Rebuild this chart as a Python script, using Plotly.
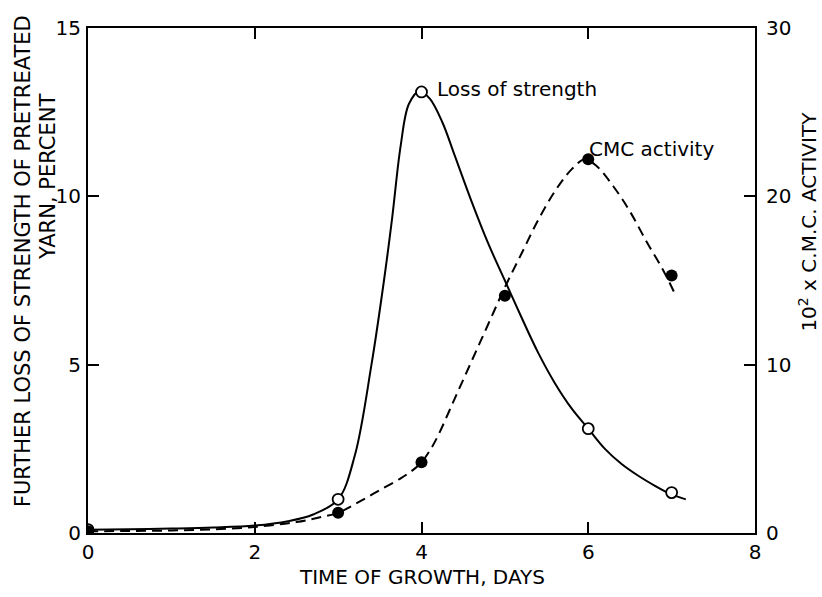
import plotly.graph_objects as go

# Measured points
days = [0, 3, 4, 6, 7]
loss_strength = [0.1, 1.0, 13.1, 3.1, 1.2]          # percent (left axis)
cmc_days = [0, 3, 4, 5, 6, 7]
cmc_activity = [0.1, 1.2, 4.2, 14.1, 22.2, 15.3]    # 10^2 x CMC activity (right axis)

# Drawn curves
loss_curve_x = [0, 0.5, 1, 1.5, 2, 2.4, 2.7, 3.0, 3.2, 3.4, 3.55, 3.65, 3.75, 3.85, 3.98,
                4.1, 4.25, 4.4, 4.6, 4.8, 5.0, 5.2, 5.4, 5.6, 5.8, 6.0, 6.2, 6.4, 6.6, 6.8, 6.95, 7.17]
loss_curve_y = [0.1, 0.11, 0.13, 0.16, 0.22, 0.35, 0.55, 1.0, 2.3, 5.0, 7.5, 9.4, 11.5, 12.75, 13.13,
                12.9, 12.2, 11.2, 9.85, 8.6, 7.5, 6.4, 5.35, 4.45, 3.7, 3.1, 2.5, 2.05, 1.7, 1.4, 1.2, 1.0]
cmc_curve_x = [0, 0.5, 1, 1.5, 2, 2.5, 2.8, 3.0, 3.25, 3.5, 3.75, 3.9, 4.0, 4.1, 4.2, 4.4, 4.6,
               4.8, 5.0, 5.2, 5.4, 5.6, 5.8, 5.96, 6.1, 6.3, 6.5, 6.7, 6.9, 7.05]
cmc_curve_y = [0.1, 0.12, 0.15, 0.22, 0.36, 0.65, 0.95, 1.2, 1.85, 2.55, 3.25, 3.75, 4.2, 4.9, 5.8,
               8.0, 10.2, 12.4, 14.6, 16.6, 18.6, 20.3, 21.6, 22.2, 21.8, 20.6, 19.1, 17.3, 15.6, 14.1]

x_ticks = [0, 2, 4, 6, 8]
left_ticks = [0, 5, 10, 15]
right_ticks = [0, 10, 20, 30]

FONT = "DejaVu Sans, Verdana, sans-serif"

fig = go.Figure()
fig.add_trace(go.Scatter(x=cmc_curve_x, y=cmc_curve_y, mode="lines", yaxis="y2",
                         line=dict(color="black", width=2, dash="10px,6px", shape="spline", smoothing=1.0),
                         hoverinfo="skip", showlegend=False))
fig.add_trace(go.Scatter(x=loss_curve_x, y=loss_curve_y, mode="lines",
                         line=dict(color="black", width=2, shape="spline", smoothing=1.0),
                         hoverinfo="skip", showlegend=False))
fig.add_trace(go.Scatter(x=days, y=loss_strength, mode="markers",
                         marker=dict(symbol="circle", size=11, color="white",
                                     line=dict(color="black", width=1.8)),
                         showlegend=False))
fig.add_trace(go.Scatter(x=cmc_days, y=cmc_activity, mode="markers", yaxis="y2",
                         marker=dict(symbol="circle", size=12, color="black"),
                         showlegend=False))

axis_common = dict(showgrid=False, zeroline=False, showline=True, linecolor="black", linewidth=2,
                   ticks="inside", ticklen=11, tickwidth=2, tickcolor="black",
                   tickfont=dict(family=FONT, size=20, color="black"))

fig.update_layout(
    width=822, height=597,
    margin=dict(l=88, r=67, t=28, b=64),
    paper_bgcolor="white", plot_bgcolor="white",
    font=dict(family=FONT, color="black"),
    xaxis=dict(range=[0, 8], tickvals=x_ticks, ticktext=[str(v) for v in x_ticks],
               mirror="ticks", **axis_common),
    yaxis=dict(range=[0, 15], tickvals=left_ticks, ticktext=[str(v) for v in left_ticks],
               mirror="ticks", ticklabelstandoff=1, **axis_common),
    yaxis2=dict(range=[0, 30], overlaying="y", side="right", tickvals=right_ticks,
                ticktext=[str(v) for v in right_ticks], showgrid=False, zeroline=False,
                showline=False, ticks="", ticklabelstandoff=10,
                tickfont=dict(family=FONT, size=20, color="black")),
    annotations=[
        dict(text="Loss of strength", x=4.16, y=13.2, xref="x", yref="y", xanchor="left",
             yanchor="middle", showarrow=False, font=dict(family=FONT, size=20)),
        dict(text="CMC activity", x=5.98, y=11.4, xref="x", yref="y", xanchor="left",
             yanchor="middle", showarrow=False, font=dict(family=FONT, size=20)),
        dict(text="TIME OF GROWTH, DAYS", x=0.5, y=-0.087, xref="paper", yref="paper",
             xanchor="center", yanchor="middle", showarrow=False, font=dict(family=FONT, size=20)),
        dict(text="FURTHER LOSS OF STRENGTH OF PRETREATED", x=-0.097, y=0.539,
             xref="paper", yref="paper", xanchor="center", yanchor="middle", textangle=-90,
             showarrow=False, font=dict(family=FONT, size=21)),
        dict(text="YARN, PERCENT", x=-0.06, y=0.705,
             xref="paper", yref="paper", xanchor="center", yanchor="middle", textangle=-90,
             showarrow=False, font=dict(family=FONT, size=21)),
        dict(text="10<sup>2</sup> x C.M.C. ACTIVITY", x=1.079, y=0.616, xref="paper", yref="paper",
             xanchor="center", yanchor="middle", textangle=-90, showarrow=False,
             font=dict(family=FONT, size=20)),
    ],
)

fig.write_html("out.html")
